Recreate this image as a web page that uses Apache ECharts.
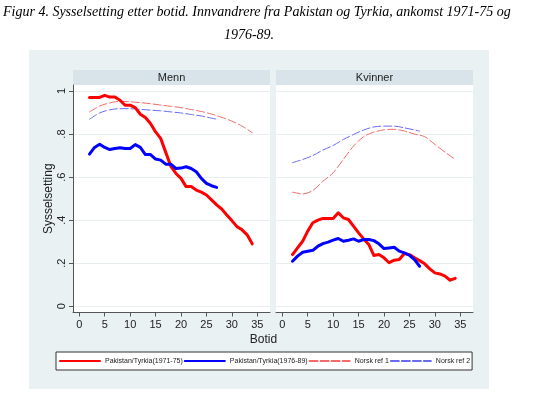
<!DOCTYPE html>
<html>
<head>
<meta charset="utf-8">
<script src="https://cdn.jsdelivr.net/npm/echarts@6/dist/echarts.min.js"></script>
<style>html,body{margin:0;padding:0;background:#fff}#c{width:538px;height:393px}</style>
</head>
<body>
<div id="c"></div>
<script>
// ---- data ----
const titleLine1 = 'Figur 4. Sysselsetting etter botid. Innvandrere fra Pakistan og Tyrkia, ankomst 1971-75 og';
const titleLine2 = '1976-89.';
const panels = ['Menn', 'Kvinner'];
const seriesNames = ['Pakistan/Tyrkia(1971-75)', 'Pakistan/Tyrkia(1976-89)', 'Norsk ref 1', 'Norsk ref 2'];
const xTickValues = [0, 5, 10, 15, 20, 25, 30, 35];
const yTickValues = [0, 0.2, 0.4, 0.6, 0.8, 1];
const yTickLabels = ['0', '.2', '.4', '.6', '.8', '1'];

const botidA = [2,3,4,5,6,7,8,9,10,11,12,13,14,15,16,17,18,19,20,21,22,23,24,25,26,27,28,29,30,31,32,33,34];
const botidB = [2,3,4,5,6,7,8,9,10,11,12,13,14,15,16,17,18,19,20,21,22,23,24,25,26,27];
const refYearsA = [2,4,6,8,10,12,14,16,18,20,22,24,26,28,30,32,34];
const refYearsB = [2,4,6,8,10,12,14,16,18,20,22,24,26,27];

// Menn
const mennPak7175 = [0.970,0.970,0.970,0.980,0.972,0.972,0.957,0.934,0.934,0.923,0.892,0.877,0.849,0.810,0.780,0.715,0.650,0.617,0.594,0.556,0.556,0.540,0.530,0.517,0.494,0.471,0.452,0.424,0.398,0.370,0.355,0.332,0.290];
const mennPak7689 = [0.707,0.738,0.753,0.738,0.728,0.733,0.736,0.733,0.733,0.751,0.738,0.705,0.705,0.684,0.679,0.660,0.660,0.640,0.642,0.648,0.640,0.625,0.594,0.571,0.560,0.552];
const mennRef1 = [0.903,0.930,0.945,0.952,0.950,0.946,0.941,0.935,0.929,0.923,0.914,0.905,0.893,0.878,0.860,0.837,0.807];
const mennRef2 = [0.869,0.898,0.913,0.918,0.918,0.915,0.911,0.908,0.903,0.898,0.891,0.884,0.874,0.869];

// Kvinner
const kvPak7175 = [0.240,0.271,0.302,0.349,0.388,0.400,0.408,0.408,0.408,0.434,0.411,0.403,0.372,0.341,0.313,0.287,0.236,0.240,0.225,0.202,0.214,0.217,0.245,0.240,0.225,0.212,0.197,0.174,0.155,0.150,0.140,0.121,0.130];
const kvPak7689 = [0.209,0.233,0.251,0.256,0.260,0.279,0.291,0.298,0.307,0.315,0.302,0.307,0.313,0.302,0.310,0.310,0.305,0.290,0.268,0.271,0.274,0.256,0.248,0.237,0.217,0.186];
const kvRef1 = [0.530,0.522,0.538,0.581,0.620,0.682,0.744,0.788,0.809,0.820,0.822,0.814,0.800,0.788,0.752,0.716,0.682];
const kvRef2 = [0.667,0.682,0.700,0.726,0.747,0.775,0.798,0.819,0.833,0.837,0.837,0.829,0.819,0.814];

// ---- build ----
const pair = (xs, ys) => xs.map((x, i) => [x, ys[i]]);
const colors = ['#ff0000', '#0000ff', '#f26a6a', '#6b6bf2'];
const styles = [
  {width: 3, type: 'solid'},
  {width: 3, type: 'solid'},
  {width: 1, type: [8, 3]},
  {width: 1, type: [8, 3]}
];
const panelData = [
  [pair(botidA, mennPak7175), pair(botidB, mennPak7689), pair(refYearsA, mennRef1), pair(refYearsB, mennRef2)],
  [pair(botidA, kvPak7175), pair(botidB, kvPak7689), pair(refYearsA, kvRef1), pair(refYearsB, kvRef2)]
];

const gridLefts = [73, 276];
const gridTop = 85, gridW = 197, gridH = 227.5;
const axisColor = '#555';
const textColor = '#222';
const fontFam = 'Liberation Sans, Arial, sans-serif';
const serifFam = 'Liberation Serif, Times New Roman, serif';

const series = [];
panelData.forEach((arrs, p) => {
  [2, 3, 0, 1].forEach(k => {
    series.push({
      type: 'line', name: seriesNames[k], xAxisIndex: p, yAxisIndex: p,
      data: arrs[k], symbol: 'none', smooth: k >= 2 ? 0.3 : false,
      color: colors[k],
      lineStyle: {color: colors[k], width: styles[k].width, type: styles[k].type, cap: 'round', join: 'round'},
      emphasis: {disabled: true}, animation: false, z: k >= 2 ? 2 : 3
    });
  });
});

const option = {
  backgroundColor: '#ffffff',
  animation: false,
  title: [
    {text: titleLine1, left: 3, top: 5, padding: 0, textStyle: {fontFamily: serifFam, fontStyle: 'italic', fontWeight: 'normal', fontSize: 14, color: '#000'}},
    {text: titleLine2, left: 249, top: 28, padding: 0, textAlign: 'center', textStyle: {fontFamily: serifFam, fontStyle: 'italic', fontWeight: 'normal', fontSize: 14, color: '#000'}}
  ],
  graphic: [
    {type: 'rect', shape: {x: 29, y: 50, width: 460, height: 339}, style: {fill: '#eaf1f3'}, z: -10, silent: true},
    {type: 'rect', shape: {x: gridLefts[0], y: 70, width: gridW, height: 15}, style: {fill: '#d8e4ea'}, z: -5, silent: true},
    {type: 'rect', shape: {x: gridLefts[1], y: 70, width: gridW, height: 15}, style: {fill: '#d8e4ea'}, z: -5, silent: true},
    {type: 'text', x: gridLefts[0] + gridW / 2, y: 77.5, style: {text: panels[0], align: 'center', verticalAlign: 'middle', font: '11px ' + fontFam, fill: textColor}, silent: true},
    {type: 'text', x: gridLefts[1] + gridW / 2, y: 77.5, style: {text: panels[1], align: 'center', verticalAlign: 'middle', font: '11px ' + fontFam, fill: textColor}, silent: true},
    {type: 'text', x: 263.5, y: 340, style: {text: 'Botid', align: 'center', verticalAlign: 'middle', font: '12px ' + fontFam, fill: textColor}, silent: true}
  ],
  grid: gridLefts.map(l => ({left: l, top: gridTop, width: gridW, height: gridH, show: true, backgroundColor: '#ffffff', borderWidth: 0, containLabel: false})),
  legend: {
    left: 56, top: 352, width: 470,
    padding: [5, 2, 5, 3], itemGap: 1, itemWidth: 40, itemHeight: 10,
    backgroundColor: '#ffffff', borderColor: '#333', borderWidth: 1, borderRadius: 0,
    data: seriesNames,
    itemStyle: {opacity: 0},
    textStyle: {fontSize: 7, fontFamily: fontFam, color: textColor},
    selectedMode: false
  },
  xAxis: gridLefts.map((l, i) => ({
    type: 'value', gridIndex: i, min: -1.24, max: 37.5,
    axisLine: {show: true, onZero: false, lineStyle: {color: axisColor, width: 1}},
    axisTick: {show: true, length: 4, customValues: xTickValues, lineStyle: {color: axisColor}},
    axisLabel: {show: true, customValues: xTickValues, fontSize: 11, fontFamily: fontFam, color: textColor, margin: 7},
    splitLine: {show: false}
  })),
  yAxis: gridLefts.map((l, i) => ({
    type: 'value', gridIndex: i, min: -0.029, max: 1.028,
    name: i === 0 ? 'Sysselsetting' : '', nameLocation: 'middle', nameGap: 18,
    nameTextStyle: {fontSize: 12, fontFamily: fontFam, color: textColor},
    axisLine: {show: i === 0, onZero: false, lineStyle: {color: axisColor, width: 1}},
    axisTick: {show: i === 0, length: 4, customValues: yTickValues, lineStyle: {color: axisColor}},
    axisLabel: {show: i === 0, customValues: yTickValues, rotate: 90, fontSize: 11, fontFamily: fontFam, color: textColor, margin: 6,
      formatter: v => { const j = yTickValues.findIndex(t => Math.abs(t - v) < 1e-6); return j >= 0 ? yTickLabels[j] : ''; }},
    splitLine: {show: true, lineStyle: {color: '#e9eff1', width: 1}}
  })),
  series: series
};
const chart = echarts.init(document.getElementById('c'), null, {renderer: 'canvas'});
chart.setOption(option);
</script>
</body>
</html>
